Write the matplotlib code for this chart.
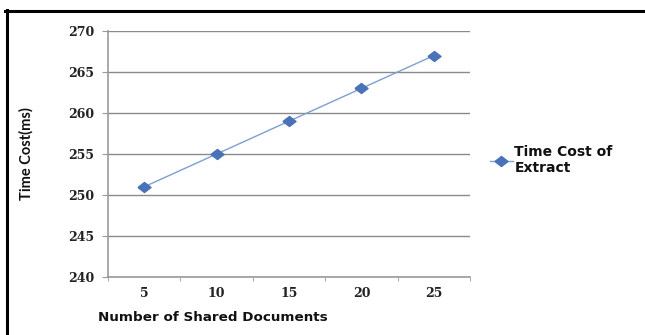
import matplotlib
matplotlib.use("Agg")
import matplotlib.pyplot as plt
from matplotlib.lines import Line2D
import numpy as np

categories = ["5", "10", "15", "20", "25"]
time_cost = [251, 255, 259, 263, 267]
y_ticks = [240, 245, 250, 255, 260, 265, 270]
series_name = "Time Cost of\nExtract"

# slightly wide diamond marker
diamond = [(-1.3, 0), (0, 1), (1.3, 0), (0, -1), (-1.3, 0)]
line_kw = dict(color="#7f9fd0", lw=1.0, marker=diamond, ms=9.4,
               mfc="#4a72b8", mec="#4a72b8")

fig = plt.figure(figsize=(6.45, 3.35), dpi=100)
ax = fig.add_axes([108 / 645, 1 - 277 / 335, 362 / 645, 246 / 335])

x = np.arange(len(categories))
ax.plot(x, time_cost, zorder=3, **line_kw)

ax.set_xlim(-0.5, len(categories) - 0.5)
ax.set_ylim(y_ticks[0], y_ticks[-1])
ax.set_yticks(y_ticks)
ax.set_xticks(x)
ax.set_xticklabels(categories)
ax.set_xticks(np.arange(-0.5, len(categories)), minor=True)
ax.tick_params(axis="x", which="major", length=0, pad=7)
ax.tick_params(axis="x", which="minor", length=3, color="#9a9a9a", direction="out")
ax.tick_params(axis="y", length=4, color="#9a9a9a", direction="out", pad=6)

for lab in ax.get_xticklabels() + ax.get_yticklabels():
    lab.set_fontfamily("DejaVu Serif")
    lab.set_fontweight("bold")
    lab.set_fontsize(9)
    lab.set_color("#222222")

ax.grid(axis="y", color="#8a8a8a", lw=1.0)
ax.set_axisbelow(True)
for side in ("top", "right"):
    ax.spines[side].set_visible(False)
for side in ("left", "bottom"):
    ax.spines[side].set_color("#9a9a9a")
    ax.spines[side].set_linewidth(1.2)

ax.set_xlabel("Number of Shared Documents", fontfamily="DejaVu Sans",
              fontweight="bold", fontsize=9.7, color="#111111")
ax.xaxis.set_label_coords((213 - 108) / 362, (277 - 311) / 246)
ax.set_ylabel("Time Cost(ms)", fontfamily="Lato", fontweight="bold",
              fontsize=10.5, color="#111111")
ax.yaxis.set_label_coords((34 - 108) / 362, 0.5)

handle = Line2D([], [], **line_kw)
leg = fig.legend([handle], [series_name], loc="center left",
                 bbox_to_anchor=(477 / 645, 1 - 160 / 335), frameon=False,
                 handlelength=1.7, handletextpad=0.1, labelspacing=0.2,
                 prop={"family": "DejaVu Sans", "weight": "bold", "size": 10})
for t in leg.get_texts():
    t.set_color("#111111")

# page frame around the figure
fig.add_artist(Line2D([5 / 645, 1.0], [1 - 11 / 335, 1 - 11 / 335],
                      transform=fig.transFigure, color="black", lw=2.2))
fig.add_artist(Line2D([6.5 / 645, 6.5 / 645], [0, 1 - 10 / 335],
                      transform=fig.transFigure, color="black", lw=2.2))

fig.savefig("out.png", dpi=100)
